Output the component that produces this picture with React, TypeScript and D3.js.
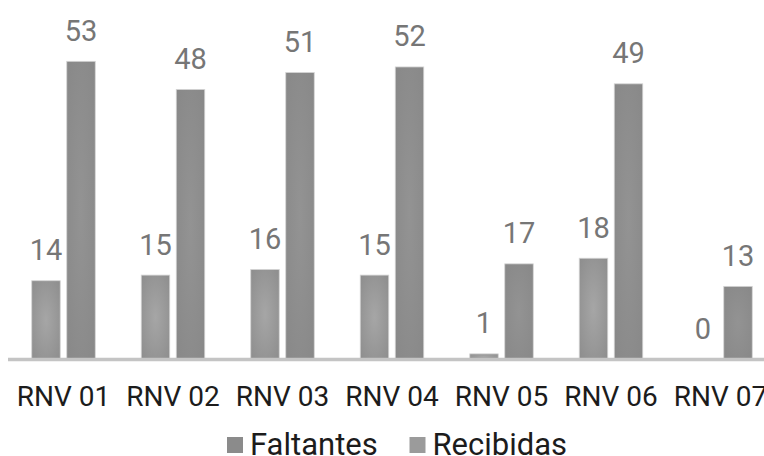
import * as d3 from 'd3'
import React, { useEffect, useRef } from 'react'

const categories = ['RNV 01', 'RNV 02', 'RNV 03', 'RNV 04', 'RNV 05', 'RNV 06', 'RNV 07']
const seriesNames = ['Faltantes', 'Recibidas']
const faltantes = [14, 15, 16, 15, 1, 18, 0]
const recibidas = [53, 48, 51, 52, 17, 49, 13]

const App = () => {
  const svgRef = useRef<any>(null)

  useEffect(() => {
    if (!svgRef.current) return
    d3.select(svgRef.current).selectAll('*').remove()

    const width = 764
    const height = 456
    const font = 'Roboto, "Noto Sans", sans-serif'

    const svg = d3.select(svgRef.current)
      .attr('width', width)
      .attr('height', height)
      .style('display', 'block')

    // Gradients like the spreadsheet bar fill
    const defs = svg.append('defs')
    const grads = [
      { id: 'g-falt', inner: '#a6a6a6', outer: '#8d8d8d' },
      { id: 'g-reci', inner: '#939393', outer: '#888888' },
    ]
    grads.forEach((g) => {
      const rg = defs.append('radialGradient').attr('id', g.id)
        .attr('cx', '50%').attr('cy', '50%').attr('r', '70%')
      rg.append('stop').attr('offset', '0%').attr('stop-color', g.inner)
      rg.append('stop').attr('offset', '100%').attr('stop-color', g.outer)
    })

    const x0 = d3.scaleBand()
      .domain(categories)
      .range([8.75, 775.25])
      .paddingInner(0.42)
      .paddingOuter(0.21)

    const x1 = d3.scaleBand()
      .domain(seriesNames)
      .range([0, x0.bandwidth()])
      .paddingInner(0.186)

    const y = d3.scaleLinear()
      .domain([0, 60])
      .range([359.5, 359.5 - 60 * 5.626])

    const rows = categories.map((c, i) => ({
      cat: c,
      values: [
        { key: 'Faltantes', value: faltantes[i] },
        { key: 'Recibidas', value: recibidas[i] },
      ],
    }))

    const groups = svg.selectAll('.group')
      .data(rows)
      .enter()
      .append('g')
      .attr('class', 'group')
      .attr('transform', (d) => `translate(${x0(d.cat)}, 0)`)

    groups.selectAll('rect')
      .data((d) => d.values.filter((v) => v.value > 0))
      .enter()
      .append('rect')
      .attr('x', (d) => x1(d.key) as number)
      .attr('width', x1.bandwidth())
      .attr('y', (d) => y(d.value))
      .attr('height', (d) => y(0) - y(d.value))
      .attr('fill', (d) => d.key === 'Faltantes' ? 'url(#g-falt)' : 'url(#g-reci)')
      .attr('stroke', '#d4d4d4')
      .attr('stroke-width', 0.8)

    // Value labels
    groups.selectAll('.value-label')
      .data((d) => d.values)
      .enter()
      .append('text')
      .attr('class', 'value-label')
      .attr('x', (d) => (x1(d.key) as number) + x1.bandwidth() / 2)
      .attr('y', (d) => y(d.value) - 20.5)
      .attr('text-anchor', 'middle')
      .attr('font-family', font)
      .attr('font-size', '29px')
      .attr('fill', '#767676')
      .text((d) => d.value)

    // Baseline
    svg.append('line')
      .attr('x1', 8)
      .attr('x2', width)
      .attr('y1', y(0))
      .attr('y2', y(0))
      .attr('stroke', '#c4c4c4')
      .attr('stroke-width', 3.5)

    // Category labels
    svg.selectAll('.cat-label')
      .data(categories)
      .enter()
      .append('text')
      .attr('class', 'cat-label')
      .attr('x', (d) => (x0(d) as number) + x0.bandwidth() / 2)
      .attr('y', 405.5)
      .attr('text-anchor', 'middle')
      .attr('font-family', font)
      .attr('font-size', '28px')
      .attr('fill', '#1c1c1c')
      .text((d) => d)

    // Legend
    const legendColors = ['#8b8b8b', '#9b9b9b']
    const legendX = [227, 409.5]
    const legend = svg.selectAll('.legend')
      .data(seriesNames)
      .enter()
      .append('g')
      .attr('class', 'legend')
      .attr('transform', (d, i) => `translate(${legendX[i]}, 437)`)

    legend.append('rect')
      .attr('width', 16)
      .attr('height', 16)
      .attr('fill', (d, i) => legendColors[i])

    legend.append('text')
      .attr('x', 23)
      .attr('y', 17.5)
      .attr('font-family', font)
      .attr('font-size', '31px')
      .attr('fill', '#1c1c1c')
      .text((d) => d)
  }, [])

  return (
    <div style={{ position: 'fixed', left: 0, top: 0, width: 764, height: 456, overflow: 'hidden', background: '#fff' }}>
      <svg ref={ svgRef }></svg>
    </div>
  )
}

export default App
